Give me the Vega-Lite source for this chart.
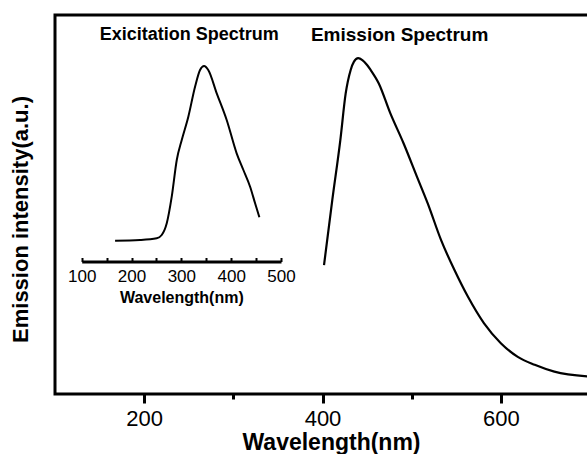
{
  "$schema": "https://vega.github.io/schema/vega-lite/v6.json",
  "width": 535,
  "height": 379,
  "padding": {"left": 55, "top": 15, "right": 0, "bottom": 60},
  "autosize": {"type": "none"},
  "background": "white",
  "config": {
    "view": {"stroke": "black", "strokeWidth": 3},
    "font": "Liberation Sans"
  },
  "datasets": {
    "emission": [
      {"wl": 401.7, "v": 34.0},
      {"wl": 411, "v": 51.2},
      {"wl": 420, "v": 67.0},
      {"wl": 426, "v": 79.3},
      {"wl": 431.6, "v": 85.5},
      {"wl": 435.3, "v": 87.7},
      {"wl": 440, "v": 88.6},
      {"wl": 444.7, "v": 88.1},
      {"wl": 450, "v": 86.8},
      {"wl": 454, "v": 85.5},
      {"wl": 463, "v": 82.0},
      {"wl": 476, "v": 74.1},
      {"wl": 491, "v": 66.1},
      {"wl": 506, "v": 57.3},
      {"wl": 518, "v": 50.3},
      {"wl": 533, "v": 40.6},
      {"wl": 548, "v": 32.7},
      {"wl": 563, "v": 25.7},
      {"wl": 581, "v": 18.7},
      {"wl": 600, "v": 13.4},
      {"wl": 619, "v": 9.8},
      {"wl": 638, "v": 7.7},
      {"wl": 660, "v": 5.9},
      {"wl": 700, "v": 4.6}
    ],
    "excitation": [
      {"wl": 167, "v": 10.4},
      {"wl": 217, "v": 10.75},
      {"wl": 250.6, "v": 11.6},
      {"wl": 260.6, "v": 13.25},
      {"wl": 270.7, "v": 19.1},
      {"wl": 280.7, "v": 32.4},
      {"wl": 290.8, "v": 50.75},
      {"wl": 300.8, "v": 60.75},
      {"wl": 314, "v": 72.4},
      {"wl": 327.5, "v": 87.4},
      {"wl": 337.5, "v": 95.75},
      {"wl": 345.6, "v": 97.75},
      {"wl": 354, "v": 95.75},
      {"wl": 371, "v": 84.1},
      {"wl": 391, "v": 70.75},
      {"wl": 411, "v": 54.1},
      {"wl": 424.5, "v": 45.75},
      {"wl": 438, "v": 37.4},
      {"wl": 448, "v": 29.1},
      {"wl": 456.6, "v": 22.1}
    ],
    "labels": [
      {"wl": 250.6, "v": 93.5, "label": "Exicitation Spectrum", "size": 18},
      {"wl": 486.5, "v": 93.2, "label": "Emission Spectrum", "size": 19}
    ]
  },
  "layer": [
    {
      "layer": [
        {
          "data": {"name": "emission"},
          "mark": {"type": "line", "color": "black", "strokeWidth": 2.2, "interpolate": "monotone"},
          "encoding": {
            "x": {
              "field": "wl", "type": "quantitative",
              "scale": {"domain": [100, 700], "nice": false, "zero": false},
              "axis": {
                "values": [200, 300, 400, 500, 600],
                "labelExpr": "datum.value % 200 === 0 ? datum.label : ''",
                "tickSize": {"condition": {"test": "datum.value % 200 === 0", "value": 9}, "value": 5},
                "tickWidth": 3,
                "tickColor": "black",
                "domain": false,
                "grid": false,
                "labelFontSize": 22,
                "labelColor": "black",
                "labelPadding": 5,
                "labelFlush": false,
                "title": "Wavelength(nm)",
                "titleFontSize": 23,
                "titleFontWeight": "bold",
                "titleColor": "black",
                "titlePadding": 2,
                "titleX": 276
              }
            },
            "y": {
              "field": "v", "type": "quantitative",
              "scale": {"domain": [0, 100], "nice": false, "zero": false},
              "axis": {
                "domain": false, "ticks": false, "labels": false, "grid": false,
                "title": "Emission intensity(a.u.)",
                "titleFontSize": 22,
                "titleFontWeight": "bold",
                "titleColor": "black",
                "titlePadding": 23,
                "titleY": 204
              }
            }
          }
        },
        {
          "data": {"name": "labels"},
          "mark": {"type": "text", "fontWeight": "bold", "align": "center", "baseline": "alphabetic", "color": "black"},
          "encoding": {
            "x": {"field": "wl", "type": "quantitative"},
            "y": {"field": "v", "type": "quantitative"},
            "text": {"field": "label"},
            "size": {"field": "size", "type": "quantitative", "scale": null, "legend": null}
          }
        }
      ]
    },
    {
      "data": {"name": "excitation"},
      "mark": {"type": "line", "color": "black", "strokeWidth": 2, "interpolate": "monotone"},
      "encoding": {
        "x": {
          "field": "wl", "type": "quantitative",
          "scale": {"domain": [100, 500], "range": [26.7, 226], "nice": false, "zero": false},
          "axis": {
            "orient": "bottom",
            "offset": -132.5,
            "values": [100, 150, 200, 250, 300, 350, 400, 450, 500],
            "labelExpr": "datum.value % 100 === 0 ? datum.label : ''",
            "tickSize": -4,
            "tickWidth": 2,
            "tickColor": "black",
            "domainWidth": 3,
            "domainColor": "black",
            "grid": false,
            "labelFontSize": 17,
            "labelColor": "black",
            "labelPadding": 11,
            "labelFlush": false,
            "title": "Wavelength(nm)",
            "titleFontSize": 16,
            "titleFontWeight": "bold",
            "titleColor": "black",
            "titlePadding": 5
          }
        },
        "y": {
          "field": "v", "type": "quantitative",
          "scale": {"domain": [0, 100], "range": [246.5, 46.5], "nice": false, "zero": false},
          "axis": null
        }
      }
    }
  ],
  "resolve": {"scale": {"x": "independent", "y": "independent"}, "axis": {"x": "independent", "y": "independent"}}
}
